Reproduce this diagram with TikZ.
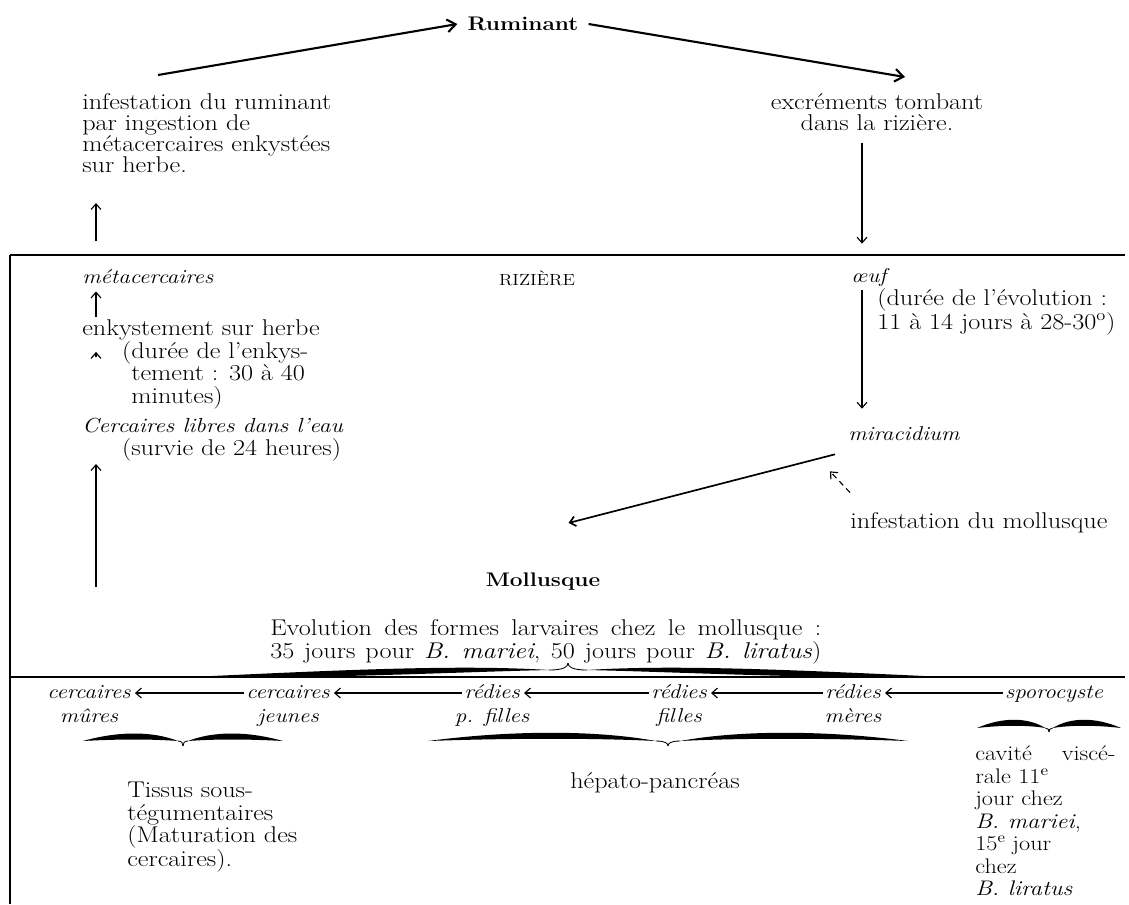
\documentclass[tikz,border=0pt]{standalone}
\usepackage{fontspec}
\setmainfont{Latin Modern Roman}[FakeStretch=1.15]
\usetikzlibrary{arrows.meta,positioning,calc}

% calligraphic brace: half width, arm end level, arm bulge, tip level
\tikzset{
  pics/swash/.style n args={4}{code={
    \foreach \s in {1,-1}{
      \begin{scope}[xscale=\s]
        \fill ({-#1},0) .. controls ({-0.65*#1},{(#3)-4}) and ({-0.3*#1},{(#2)+(#3)-4}) .. ({-0.05*#1},{#2})
          .. controls ({-0.3*#1},{(#2)+(#3)+4}) and ({-0.65*#1},{(#3)+4}) .. cycle;
        \draw[line width=0.6pt] ({-0.05*#1},{#2}) .. controls ({-0.01*#1},{#2}) and (0,{0.5*(#2)+0.5*(#4)}) .. (0,{#4});
      \end{scope}
    }
  }}
}

\begin{document}
\begin{tikzpicture}[x=0.025cm, y=-0.025cm,
  txt/.style={inner sep=0pt, font=\fontsize{16.2}{16}\selectfont, align=left},
  lab/.style={inner sep=0pt, font=\fontsize{14.2}{15}\selectfont\itshape},
  hd/.style={inner sep=0pt, font=\fontsize{14}{16}\selectfont\bfseries},
  arr/.style={-{Straight Barb[length=4pt,width=7pt]}, line width=0.8pt},
  bigarr/.style={-{Straight Barb[length=6pt,width=9pt]}, line width=1.5pt},
  rule/.style={line width=0.8pt}
]
\useasboundingbox (0,0) rectangle (1129,904);

% ruminant
\node[hd] (rum) at (523,24) {Ruminant};
\node[txt, anchor=north west, font=\fontsize{16.2}{15}\selectfont] (infr) at (82,93)
  {infestation du ruminant\\par ingestion de\\métacercaires enkystées\\sur herbe.};
\node[txt, anchor=north, align=center, font=\fontsize{16.2}{15}\selectfont] (excr) at (877,93)
  {excréments tombant\\dans la rizière.};
\draw[bigarr] ($(infr.north west)+(76,-18)$) -- ($(rum.west)+(-10,0)$);
\draw[bigarr] ($(rum.east)+(10,0)$) -- ($(excr.north)+(28,-16)$);

% riziere
\draw[rule] (10,255) -- (1125,255);
\draw[rule] (10,255) -- (10,904);
\node[inner sep=0pt, font=\fontsize{11.5}{13}\selectfont] (rizi) at (537,278) {RIZIÈRE};
\node[lab, anchor=base west] (meta) at (82,283) {métacercaires};
\node[lab, anchor=base west] (oeuf) at (851,282) {œuf};
\node[txt, anchor=north west] (dur) at (877,288)
  {(durée de l'évolution :\\11 à 14 jours à 28-30\textsuperscript{o})};
\node[lab, anchor=west] (mira) at (848,434) {miracidium};
\node[txt, anchor=base west] (enk) at (82,335) {enkystement sur herbe};
\node[txt, anchor=north west] (enkd) at (131,341)
  {\llap{(}durée de l'enkys-\\tement : 30 à 40\\minutes)};
\node[lab, anchor=base west, font=\fontsize{14.5}{16}\selectfont\itshape] (cerc) at (82,432)
  {Cercaires libres dans l'eau};
\node[txt, anchor=base west] (surv) at (131,455) {\llap{(}survie de 24 heures)};
\node[txt, anchor=west] (infm) at (850,523) {infestation du mollusque};

\draw[arr] ($(infr.south west)+(14,68)$) -- ($(infr.south west)+(14,30)$);
\draw[arr] ($(enk.north west)+(14,-2)$) -- ($(meta.south west)+(14,8)$);
\draw[arr] ($(cerc.north west)+(14,-60)$) -- ($(enk.south west)+(14,12)$);
\draw[arr] ($(excr.south)+(-15,12)$) -- ($(excr.south |- oeuf.north)+(-15,-24)$);
\draw[arr] ($(oeuf.south west)+(11,4)$) -- ($(oeuf.south west |- mira.north)+(11,-18)$);
\draw[arr, dash pattern=on 4pt off 3pt] ($(infm.north west)+(0,-20)$) -- ($(mira.south west)+(-18,30)$);

% mollusque
\node[hd] (moll) at (543,582) {Mollusque};
\draw[arr, line width=1.2pt] ($(mira.south west)+(-13,13)$) -- ($(moll.north east)+(-32,-50)$);
\node[txt, anchor=north west, font=\fontsize{16.2}{16.3}\selectfont] (evo) at (270,619)
  {\makebox[13.775cm][s]{Evolution des formes larvaires chez le mollusque :}\\
   \makebox[13.775cm][s]{35 jours pour \textit{B. mariei}, 50 jours pour \textit{B. liratus})}};
\draw[rule] (10,677) -- (1125,677);
\pic at (568,677) {swash={378}{-7}{-2}{-14}};

% stades larvaires
\node[lab, anchor=base] (cm) at (89,698) {cercaires};
\node[lab, anchor=base] (cj) at (288,698) {cercaires};
\node[lab, anchor=base] (rp) at (492,698) {rédies};
\node[lab, anchor=base] (rf) at (679,698) {rédies};
\node[lab, anchor=base] (rm) at (853,698) {rédies};
\node[lab, anchor=base] (sp) at (1054,698) {sporocyste};
\node[lab, anchor=base] (cmb) at ($(cm.base)+(0,24)$) {mûres};
\node[lab, anchor=base] (cjb) at ($(cj.base)+(0,24)$) {jeunes};
\node[lab, anchor=base] (rpb) at ($(rp.base)+(0,24)$) {p. filles};
\node[lab, anchor=base] (rfb) at ($(rf.base)+(0,24)$) {filles};
\node[lab, anchor=base] (rmb) at ($(rm.base)+(0,24)$) {mères};
\foreach \a/\b in {cj/cm, rp/cj, rf/rp, rm/rf, sp/rm}
  \draw[arr] ($(\a.base west)+(-2,-5)$) -- ($(\b.base east)+(4,-5)$);
\draw[arr] ($(cerc.west |- cm.north)+(14,-98)$) -- ($(cerc.west |- surv.south)+(14,3)$);

\pic at (183,741) {swash={100}{0}{-6}{5}};
\pic at (668,741) {swash={240}{0}{-7}{5}};
\pic at (1049,728) {swash={72}{0}{-7}{4}};

\node[txt, anchor=north west] (tiss) at (127,782)
  {Tissus sous-\\tégumentaires\\(Maturation des\\cercaires).};
\node[txt] (hepa) at (655,783) {hépato-pancréas};
\node[txt, anchor=north west, font=\fontsize{15}{16}\selectfont] (cav) at (975,746)
  {\makebox[3.5cm][s]{cavité viscé-}\\rale 11\raisebox{0.9ex}{\fontsize{10.5}{10}\selectfont e}\\jour chez\\\textit{B. mariei},\\15\raisebox{0.9ex}{\fontsize{10.5}{10}\selectfont e} jour\\chez\\\textit{B. liratus}};
\end{tikzpicture}
\end{document}
